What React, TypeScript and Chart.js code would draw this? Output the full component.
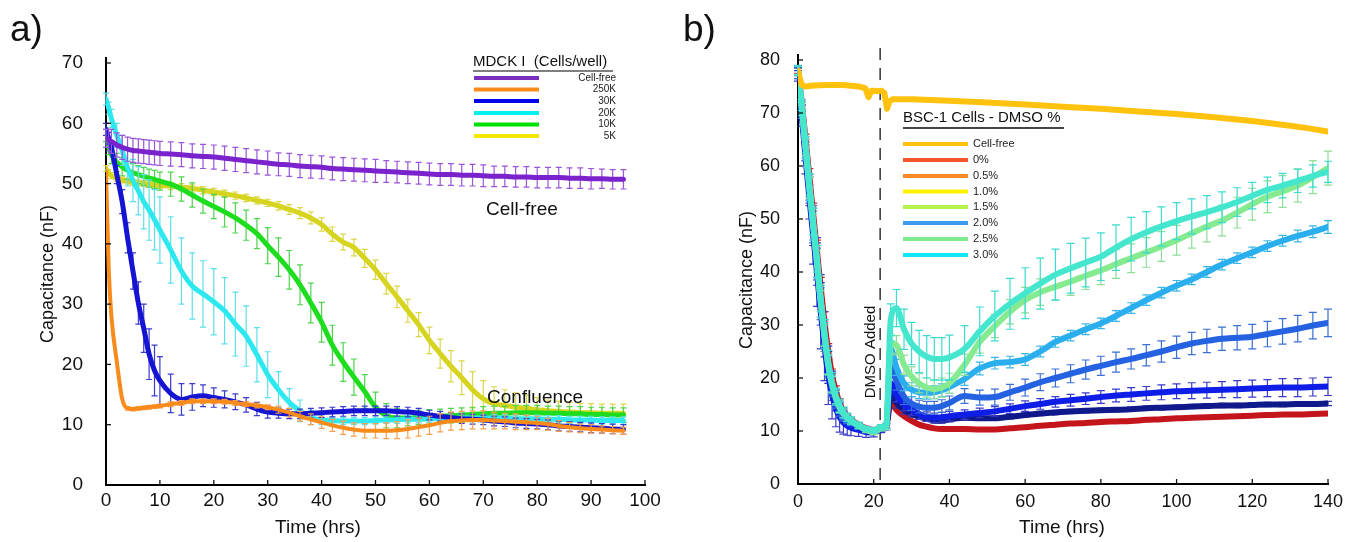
import React, { useEffect, useRef } from 'react';
import { Chart, registerables } from 'chart.js';

Chart.register(...registerables);

const FONT = '"Liberation Sans", Arial, Helvetica, sans-serif';

// ================= Panel a : MDCK I =================
const TIME_A = [0, 0.5, 1, 2, 3, 4, 5, 6, 7, 8, 9, 10, 12, 14, 16, 18, 20, 22, 24, 26, 28, 30, 32, 34, 36, 38, 40, 42, 44, 46, 48, 50, 52, 54, 56, 58, 60, 62, 64, 66, 68, 70, 72, 74, 76, 78, 80, 82, 84, 86, 88, 90, 92, 94, 96];

const A_CELLFREE = [57.5, 57.2, 57.0, 56.4, 56.0, 55.7, 55.5, 55.4, 55.3, 55.2, 55.1, 55.0, 54.9, 54.8, 54.6, 54.5, 54.4, 54.2, 54.0, 53.8, 53.6, 53.4, 53.2, 53.1, 52.9, 52.8, 52.7, 52.5, 52.4, 52.3, 52.2, 52.1, 52.0, 51.9, 51.8, 51.7, 51.6, 51.5, 51.5, 51.4, 51.4, 51.3, 51.2, 51.2, 51.1, 51.1, 51.0, 51.0, 51.0, 50.9, 50.9, 50.8, 50.8, 50.7, 50.7];
const A_CELLFREE_ERR = [1.5, 1.8, 2, 2, 2, 2, 2, 2, 2, 2, 2, 2, 2, 2, 2, 2, 2, 2, 2, 2, 2, 2, 1.9, 1.9, 1.9, 1.9, 1.9, 1.9, 1.9, 1.9, 1.9, 1.9, 1.8, 1.8, 1.8, 1.8, 1.8, 1.8, 1.8, 1.8, 1.8, 1.8, 1.7, 1.7, 1.7, 1.7, 1.7, 1.7, 1.7, 1.7, 1.7, 1.7, 1.6, 1.6, 1.6];

const A_250K = [52, 36, 28, 20.5, 14.3, 12.7, 12.6, 12.7, 12.8, 12.9, 13.0, 13.1, 13.4, 13.6, 13.9, 13.9, 13.9, 13.8, 13.6, 13.4, 13.2, 12.9, 12.5, 12.0, 11.4, 10.9, 10.4, 9.9, 9.5, 9.2, 9.0, 9.0, 9.0, 9.1, 9.3, 9.6, 9.9, 10.3, 10.6, 10.7, 10.8, 10.8, 10.7, 10.6, 10.5, 10.4, 10.3, 10.1, 9.8, 9.6, 9.4, 9.3, 9.2, 9.1, 9.0];
const A_250K_ERR = [0, 0, 0, 0, 0, 0.3, 0.3, 0.3, 0.3, 0.3, 0.3, 0.3, 0.4, 0.4, 0.4, 0.4, 0.4, 0.4, 0.4, 0.4, 0.4, 0.4, 0.6, 0.7, 0.8, 0.9, 1.0, 1.0, 1.1, 1.1, 1.2, 1.2, 1.3, 1.4, 1.5, 1.5, 1.5, 1.5, 1.5, 1.5, 1.5, 1.5, 1.4, 1.3, 1.3, 1.2, 1.1, 1.0, 0.9, 0.8, 0.7, 0.7, 0.6, 0.6, 0.6];

const A_30K = [59, 57.5, 56, 51.5, 47, 41, 35.5, 30.2, 26, 21.7, 19, 17.3, 15.2, 14.2, 14.6, 14.8, 14.5, 14.2, 13.8, 13.3, 12.6, 12.1, 11.9, 11.8, 11.8, 11.9, 12.0, 12.1, 12.2, 12.3, 12.3, 12.3, 12.3, 12.2, 12.1, 11.9, 11.6, 11.4, 11.2, 11.0, 10.9, 10.8, 10.6, 10.5, 10.3, 10.2, 10.1, 10.0, 9.8, 9.7, 9.6, 9.5, 9.4, 9.3, 9.2];
const A_30K_ERR = [1, 1, 1, 1.5, 2, 2.5, 3, 3.5, 4, 4.2, 4.2, 4, 3.2, 2.6, 2.2, 1.8, 1.6, 1.4, 1.3, 1.2, 1.1, 1.0, 0.8, 0.8, 0.8, 0.8, 0.8, 0.8, 0.8, 0.8, 0.8, 0.8, 0.8, 0.8, 0.8, 0.8, 0.8, 0.8, 0.8, 0.8, 0.8, 0.8, 0.8, 0.8, 0.8, 0.8, 0.8, 0.8, 0.8, 0.8, 0.8, 0.8, 0.8, 0.8, 0.8];

const A_20K = [64, 62.5, 60.8, 58, 55.5, 52.6, 50.5, 48.8, 47.0, 45.6, 44.0, 42.3, 39.0, 35.5, 33.0, 31.7, 30.4, 28.9, 26.7, 24.7, 21.6, 18.3, 15.8, 13.7, 12.3, 11.2, 10.8, 10.7, 10.6, 10.6, 10.6, 10.7, 10.8, 10.8, 10.9, 10.9, 11.0, 11.0, 11.0, 11.1, 11.1, 11.1, 11.1, 11.1, 11.0, 11.0, 11.0, 10.9, 10.9, 10.8, 10.8, 10.8, 10.7, 10.7, 10.7];
const A_20K_ERR = [1, 1, 1.5, 2, 2.5, 3, 3.5, 4, 4.5, 5, 5, 5.5, 5.5, 5.5, 5.5, 5.5, 5.5, 5.5, 5.3, 5, 4.5, 3.8, 3.0, 2.3, 1.8, 1.2, 0.8, 0.6, 0.6, 0.6, 0.6, 0.6, 0.6, 0.6, 0.6, 0.6, 0.6, 0.6, 0.6, 0.6, 0.6, 0.6, 0.6, 0.6, 0.6, 0.6, 0.6, 0.6, 0.6, 0.6, 0.6, 0.6, 0.6, 0.6, 0.6];

const A_10K = [58, 56, 54.8, 53.5, 52.8, 52.2, 51.8, 51.5, 51.2, 50.9, 50.7, 50.4, 49.9, 49.1, 48.1, 47.1, 46.2, 45.3, 44.3, 43.1, 41.7, 39.7, 37.8, 35.7, 33.2, 30.2, 27.0, 23.2, 20.4, 17.9, 15.5, 12.9, 11.5, 11.1, 11.1, 11.2, 11.3, 11.4, 11.5, 11.6, 11.7, 11.8, 11.9, 11.9, 12.0, 12.0, 12.0, 11.9, 11.9, 11.8, 11.8, 11.7, 11.7, 11.6, 11.6];
const A_10K_ERR = [1, 1.2, 1.5, 1.5, 1.5, 1.5, 1.5, 1.5, 1.5, 1.5, 1.5, 1.5, 2, 2, 2, 2, 2, 2.5, 2.5, 2.5, 2.5, 3, 3.2, 3.2, 3.3, 3.3, 3.3, 3.3, 3.2, 3.0, 2.8, 2.5, 2.0, 1.6, 1.3, 1.2, 1.2, 1.2, 1.2, 1.2, 1.2, 1.2, 1.2, 1.2, 1.2, 1.2, 1.2, 1.2, 1.2, 1.2, 1.2, 1.2, 1.2, 1.2, 1.2];

const A_5K = [52.5, 51.8, 51.3, 50.9, 50.6, 50.4, 50.2, 50.1, 50.0, 49.9, 49.8, 49.7, 49.6, 49.4, 49.2, 48.9, 48.6, 48.3, 48.0, 47.6, 47.2, 46.8, 46.3, 45.7, 45.1, 44.3, 43.2, 41.6, 40.3, 39.4, 37.6, 35.7, 33.4, 31.2, 28.9, 26.6, 24.0, 21.8, 19.7, 17.8, 15.8, 14.3, 13.5, 13.2, 12.9, 12.7, 12.5, 12.3, 12.2, 12.1, 12.0, 12.0, 11.9, 11.9, 11.9];
const A_5K_ERR = [0.5, 0.5, 0.5, 0.5, 0.5, 0.5, 0.5, 0.5, 0.5, 0.5, 0.5, 0.5, 0.6, 0.6, 0.6, 0.6, 0.6, 0.6, 0.6, 0.6, 0.6, 0.6, 0.7, 0.8, 0.9, 1.0, 1.1, 1.2, 1.3, 1.4, 1.5, 1.6, 1.7, 1.8, 1.9, 2.0, 2.2, 2.4, 2.6, 2.8, 3.0, 3.0, 2.8, 2.6, 2.4, 2.2, 2.0, 1.8, 1.7, 1.6, 1.5, 1.5, 1.5, 1.5, 1.5];

const A_LEGEND_TITLE = 'MDCK I  (Cells/well)';
const A_LEGEND_LABELS = ['Cell-free', '250K', '30K', '20K', '10K', '5K'];
const A_LEGEND_COLORS = ['#7B2FBE', '#FF8C1A', '#0000EE', '#00F0F0', '#00E000', '#F0E800'];

// ================= Panel b : BSC-1 / DMSO =================
const TIME_B = [0, 1, 2, 3, 4, 5, 6, 7, 8, 9, 10, 11, 12, 13, 14, 16, 18, 20, 22, 23.3, 24.5, 26, 28, 30, 32, 34, 36, 38, 40, 44, 48, 52, 56, 60, 64, 68, 72, 76, 80, 84, 88, 92, 96, 100, 104, 108, 112, 116, 120, 124, 128, 132, 136, 140];

const B_DMSO_0 = [78, 72, 65, 58, 51, 44, 37, 30.5, 25, 20.5, 17.5, 15.3, 13.8, 12.8, 12.1, 11.2, 10.5, 10.2, 10.7, 11.0, 15.3, 14.0, 12.8, 11.9, 11.2, 10.8, 10.5, 10.4, 10.4, 10.4, 10.3, 10.3, 10.5, 10.7, 11.0, 11.2, 11.4, 11.5, 11.7, 11.8, 11.9, 12.1, 12.2, 12.4, 12.5, 12.6, 12.7, 12.8, 12.9, 13.0, 13.1, 13.1, 13.2, 13.3];
const B_DMSO_0_ERR = [0.5, 0.5, 1, 1.5, 2, 2, 2, 2, 1.5, 1.2, 1, 0.8, 0.6, 0.5, 0.5, 0.4, 0.4, 0.4, 0.4, 0.4, 0, 0, 0, 0, 0, 0, 0, 0, 0, 0, 0, 0, 0, 0, 0, 0, 0, 0, 0, 0, 0, 0, 0, 0, 0, 0, 0, 0, 0, 0, 0, 0, 0, 0];

const B_DMSO_05 = [77.5, 70.5, 63, 55.5, 48.5, 41.5, 34, 27.5, 22, 18.3, 15.8, 14.0, 12.9, 12.2, 11.7, 10.9, 10.3, 10.0, 10.5, 10.9, 17.0, 15.3, 14.0, 13.2, 12.7, 12.3, 12.0, 12.0, 12.2, 12.5, 12.4, 12.4, 12.7, 13.0, 13.3, 13.5, 13.7, 13.8, 13.9, 14.0, 14.1, 14.3, 14.4, 14.5, 14.6, 14.7, 14.8, 14.8, 14.9, 15.0, 15.0, 15.1, 15.1, 15.2];
const B_DMSO_05_ERR = [1, 1.5, 2, 3, 3.5, 4, 4, 3.5, 3, 2.5, 2, 1.5, 1.2, 1, 0.8, 0.6, 0.5, 0.5, 0.5, 0.5, 1.2, 1, 0.8, 0.6, 0.5, 0.5, 0.5, 0.5, 0.5, 0.4, 0.4, 0.4, 0.4, 0.4, 0.4, 0.4, 0.4, 0.4, 0.4, 0.4, 0.4, 0.4, 0.4, 0.4, 0.4, 0.4, 0.4, 0.4, 0.4, 0.4, 0.4, 0.4, 0.4, 0.4];

const B_DMSO_10 = [77, 69.5, 61.5, 54, 47, 40, 32.5, 26, 20.5, 16.8, 14.3, 12.6, 11.6, 11.0, 10.6, 10.2, 9.8, 9.7, 10.3, 10.8, 19.0, 16.8, 15.0, 14.0, 13.2, 12.7, 12.5, 12.6, 12.8, 13.1, 13.4, 13.7, 14.2, 14.7, 15.1, 15.5, 15.8, 16.1, 16.4, 16.7, 16.9, 17.1, 17.3, 17.5, 17.6, 17.7, 17.8, 17.9, 18.0, 18.1, 18.2, 18.2, 18.3, 18.4];
const B_DMSO_10_ERR = [1, 2, 3, 4, 5.5, 6.5, 7, 6.5, 5.5, 4.5, 3.5, 2.8, 2.2, 1.8, 1.5, 1.2, 1.0, 0.8, 0.6, 0.6, 1.5, 1.3, 1.2, 1.0, 1.0, 0.9, 0.9, 0.9, 0.9, 0.9, 0.9, 0.9, 0.9, 1.0, 1.0, 1.0, 1.1, 1.1, 1.2, 1.2, 1.3, 1.3, 1.4, 1.4, 1.5, 1.5, 1.5, 1.6, 1.6, 1.6, 1.7, 1.7, 1.7, 1.7];

const B_DMSO_15 = [77.5, 70.5, 63, 55.5, 48.5, 41.5, 34, 27.5, 22, 18.3, 15.8, 14.0, 12.9, 12.2, 11.7, 10.9, 10.3, 10.0, 10.5, 10.9, 22.5, 19.5, 16.5, 15.2, 14.6, 14.4, 14.4, 14.7, 15.3, 16.6, 16.3, 16.4, 17.3, 18.2, 19.2, 20.0, 20.8, 21.6, 22.3, 23.0, 23.6, 24.3, 25.0, 25.8, 26.5, 27.0, 27.4, 27.6, 27.8, 28.3, 28.8, 29.3, 29.9, 30.4];
const B_DMSO_15_ERR = [1, 1.5, 2, 2.5, 3, 3, 3, 2.5, 2, 1.8, 1.5, 1.2, 1, 0.8, 0.7, 0.6, 0.5, 0.5, 0.5, 0.5, 2, 1.8, 1.5, 1.3, 1.2, 1.2, 1.2, 1.2, 1.3, 1.4, 1.4, 1.5, 1.5, 1.6, 1.6, 1.7, 1.7, 1.8, 1.8, 1.9, 1.9, 2.0, 2.0, 2.1, 2.1, 2.2, 2.2, 2.3, 2.3, 2.4, 2.4, 2.5, 2.5, 2.6];

const B_DMSO_20 = [78, 71, 63.5, 56, 49, 42, 34.5, 28, 22.5, 18.8, 16.3, 14.5, 13.3, 12.5, 11.9, 11.0, 10.3, 10.0, 10.6, 10.9, 25.5, 22, 19, 17.8, 17.3, 17.2, 17.3, 17.7, 18.3, 19.8, 21.8, 22.8, 23.0, 23.5, 25.0, 26.8, 28.0, 29.2, 30.3, 31.7, 33.2, 34.7, 36.1, 37.4, 38.6, 40.0, 41.4, 42.6, 43.7, 44.9, 45.9, 46.8, 47.6, 48.5];
const B_DMSO_20_ERR = [1, 1.5, 2, 2.5, 3, 3, 3, 2.5, 2, 1.8, 1.5, 1.2, 1, 0.8, 0.7, 0.6, 0.5, 0.5, 0.5, 0.5, 1.5, 1.5, 1.4, 1.3, 1.2, 1.2, 1.2, 1.2, 1.2, 1.2, 1.2, 1.1, 1.1, 1.1, 1.0, 1.0, 1.0, 1.0, 1.0, 1.0, 1.0, 1.0, 1.0, 1.0, 1.0, 1.0, 1.0, 1.0, 1.0, 1.0, 1.0, 1.1, 1.1, 1.2];

const B_DMSO_25 = [78, 71, 63.5, 56, 49, 42, 34.5, 28, 22.5, 18.8, 16.3, 14.5, 13.3, 12.5, 11.9, 11.0, 10.2, 9.8, 10.5, 10.8, 26.5, 26.2, 22.5, 20.3, 19.0, 18.2, 17.9, 18.2, 19.0, 22.5, 26.8, 29.8, 32.5, 34.7, 36.2, 37.2, 38.2, 39.3, 40.3, 41.5, 42.6, 43.7, 44.8, 46.0, 47.3, 48.6, 49.7, 51.2, 52.8, 54.2, 55.2, 56.3, 57.9, 59.6];
const B_DMSO_25_ERR = [0.8, 1, 1.5, 2, 2, 2, 2, 2, 1.8, 1.5, 1.2, 1, 0.8, 0.7, 0.6, 0.5, 0.5, 0.5, 0.5, 0.5, 1.8, 1.8, 1.8, 1.8, 1.8, 1.8, 1.8, 1.8, 1.9, 2.0, 2.1, 2.2, 2.3, 2.4, 2.5, 2.5, 2.6, 2.6, 2.7, 2.7, 2.7, 2.8, 2.8, 2.8, 2.8, 2.9, 2.9, 2.9, 3.0, 3.0, 3.0, 3.1, 3.1, 3.2];

const B_DMSO_30 = [78, 71.5, 64, 56.5, 49.5, 42.5, 35, 28.5, 23, 19.2, 16.6, 14.8, 13.5, 12.6, 12.0, 11.1, 10.4, 10.1, 10.7, 11.0, 31.0, 33.2, 29.2, 26.5, 25.0, 24.0, 23.6, 23.6, 23.9, 25.5, 28.8, 31.7, 34.0, 36.0, 37.8, 39.5, 40.7, 41.8, 42.9, 44.6, 46.2, 47.5, 48.6, 49.6, 50.5, 51.3, 52.2, 53.2, 54.4, 55.5, 56.3, 57.2, 58.1, 58.9];
const B_DMSO_30_ERR = [0.8, 1, 1.5, 2, 2.5, 2.5, 2.5, 2.5, 2.2, 1.8, 1.5, 1.2, 1, 0.8, 0.7, 0.6, 0.5, 0.5, 0.5, 0.5, 3.0, 3.5, 3.8, 4.0, 4.0, 4.0, 4.0, 4.0, 4.2, 4.4, 4.6, 4.7, 4.8, 4.8, 4.8, 4.8, 4.7, 4.6, 4.5, 4.3, 4.1, 3.9, 3.7, 3.5, 3.3, 3.1, 2.9, 2.7, 2.5, 2.4, 2.3, 2.2, 2.1, 2.0];

const TIME_CF = [0, 0.5, 1, 2, 4, 8, 12, 16, 17.8, 18.6, 19.4, 20, 21, 22, 22.8, 23.5, 24.2, 25, 30, 40, 50, 60, 70, 80, 90, 100, 110, 120, 130, 135, 140];
const B_CELLFREE = [78, 76.5, 75.3, 75, 75.2, 75.3, 75.3, 75.0, 74.7, 73.0, 74.2, 74.2, 74.1, 74.2, 73.8, 70.8, 72.2, 72.6, 72.6, 72.3, 72.0, 71.6, 71.2, 70.8, 70.3, 69.8, 69.2, 68.5, 67.6, 67.1, 66.5];

const DMSO_TIME = 21.7;

const B_LEGEND_TITLE = 'BSC-1 Cells - DMSO %';
const B_LEGEND_LABELS = ['Cell-free', '0%', '0.5%', '1.0%', '1.5%', '2.0%', '2.5%', '3.0%'];
const B_LEGEND_COLORS = ['#FFC20E', '#F4552A', '#FF8A2A', '#FFF200', '#B6F24E', '#3C9BF0', '#7EEA8C', '#12E6F5'];

// ================= helpers =================
function series(label: string, xs: number[], ys: number[], errs: number[] | null, color: string, errColor: string, width: number, cap: number, smooth = true) {
  return {
    label,
    data: xs.map((x, i) => ({ x, y: ys[i] })),
    borderColor: color,
    backgroundColor: color,
    borderWidth: width,
    pointRadius: 0,
    fill: false,
    tension: smooth ? 0.4 : 0,
    cubicInterpolationMode: smooth ? 'monotone' : 'default',
    borderCapStyle: 'round',
    borderJoinStyle: 'round',
    errors: errs,
    errorColor: errColor,
    capHalf: cap,
  } as any;
}

const errorBarPlugin = {
  id: 'errorBars',
  beforeDatasetDraw(chart: any, args: any) {
    const ds = chart.data.datasets[args.index];
    const errs: number[] | null = ds.errors;
    if (!errs) return;
    const xs = chart.scales.x;
    const ys = chart.scales.y;
    const ctx = chart.ctx;
    ctx.save();
    ctx.strokeStyle = ds.errorColor;
    ctx.lineWidth = 1.2;
    const c = ds.capHalf;
    ds.data.forEach((p: any, i: number) => {
      const e = errs[i];
      if (!e) return;
      const px = xs.getPixelForValue(p.x);
      const top = ys.getPixelForValue(p.y + e);
      const bot = ys.getPixelForValue(p.y - e);
      ctx.beginPath();
      ctx.moveTo(px, top); ctx.lineTo(px, bot);
      ctx.moveTo(px - c, top); ctx.lineTo(px + c, top);
      ctx.moveTo(px - c, bot); ctx.lineTo(px + c, bot);
      ctx.stroke();
    });
    ctx.restore();
  },
};

const inwardTicks = {
  id: 'inwardTicks',
  afterDraw(chart: any) {
    const { ctx, chartArea } = chart;
    const xs = chart.scales.x;
    const ys = chart.scales.y;
    ctx.save();
    ctx.strokeStyle = '#111';
    ctx.lineWidth = 1.3;
    xs.ticks.forEach((t: any) => {
      if (t.value === xs.min) return;
      const px = xs.getPixelForValue(t.value);
      ctx.beginPath(); ctx.moveTo(px, chartArea.bottom); ctx.lineTo(px, chartArea.bottom - 5); ctx.stroke();
    });
    ys.ticks.forEach((t: any) => {
      if (t.value === ys.min) return;
      const py = ys.getPixelForValue(t.value);
      ctx.beginPath(); ctx.moveTo(chartArea.left, py); ctx.lineTo(chartArea.left + 5, py); ctx.stroke();
    });
    // small extension of the y axis line above the top tick
    ctx.strokeStyle = '#000';
    ctx.lineWidth = 2;
    ctx.beginPath(); ctx.moveTo(chartArea.left, chartArea.top); ctx.lineTo(chartArea.left, chartArea.top - 6); ctx.stroke();
    ctx.restore();
  },
};

function axisOptions(min: number, max: number, step: number, pad: number, size: number, fit: (s: any) => void) {
  return {
    type: 'linear',
    min, max,
    ticks: { stepSize: step, padding: pad, color: '#111', font: { family: FONT, size }, autoSkip: false, maxRotation: 0 },
    grid: { display: false },
    border: { display: true, color: '#000', width: 2 },
    afterFit: fit,
  } as any;
}

function drawRotated(ctx: CanvasRenderingContext2D, text: string, cx: number, cy: number, font: string) {
  ctx.save();
  ctx.translate(cx, cy);
  ctx.rotate(-Math.PI / 2);
  ctx.font = font;
  ctx.textAlign = 'center';
  ctx.textBaseline = 'middle';
  ctx.fillText(text, 0, 0);
  ctx.restore();
}

const overlayA = {
  id: 'overlayA',
  afterDraw(chart: any) {
    const ctx: CanvasRenderingContext2D = chart.ctx;
    ctx.save();
    ctx.fillStyle = '#111';
    ctx.textAlign = 'left';
    ctx.textBaseline = 'alphabetic';
    ctx.font = `37px ${FONT}`;
    ctx.fillText('a)', 10, 41);
    drawRotated(ctx, 'Capacitance (nF)', 48, 274, `18px ${FONT}`);
    ctx.font = `19px ${FONT}`;
    ctx.textAlign = 'center';
    ctx.textBaseline = 'middle';
    ctx.fillText('Time (hrs)', 318, 528);
    ctx.textAlign = 'left';
    ctx.fillText('Cell-free', 486, 210);
    ctx.fillText('Confluence', 487, 398);
    // legend
    ctx.textBaseline = 'alphabetic';
    ctx.font = `15px ${FONT}`;
    ctx.fillText(A_LEGEND_TITLE, 473, 66);
    ctx.strokeStyle = '#555';
    ctx.lineWidth = 1.5;
    ctx.beginPath(); ctx.moveTo(473, 71); ctx.lineTo(613, 71); ctx.stroke();
    const ys = [78, 89.5, 101, 113, 124.5, 136];
    ctx.font = `10px ${FONT}`;
    ctx.textAlign = 'right';
    ctx.textBaseline = 'middle';
    A_LEGEND_LABELS.forEach((lab, i) => {
      ctx.strokeStyle = A_LEGEND_COLORS[i];
      ctx.lineWidth = 4;
      ctx.beginPath(); ctx.moveTo(474, ys[i]); ctx.lineTo(539, ys[i]); ctx.stroke();
      ctx.fillStyle = '#222';
      ctx.fillText(lab, 616, ys[i]);
    });
    ctx.restore();
  },
};

const overlayB = {
  id: 'overlayB',
  beforeDatasetsDraw(chart: any) {
    const ctx: CanvasRenderingContext2D = chart.ctx;
    const xs = chart.scales.x;
    const px = xs.getPixelForValue(DMSO_TIME);
    ctx.save();
    ctx.strokeStyle = '#333';
    ctx.lineWidth = 1.5;
    ctx.setLineDash([12, 8]);
    ctx.beginPath(); ctx.moveTo(px, 48); ctx.lineTo(px, chart.chartArea.bottom); ctx.stroke();
    ctx.restore();
  },
  afterDraw(chart: any) {
    const ctx: CanvasRenderingContext2D = chart.ctx;
    ctx.save();
    ctx.fillStyle = '#111';
    ctx.textAlign = 'left';
    ctx.textBaseline = 'alphabetic';
    ctx.font = `37px ${FONT}`;
    ctx.fillText('b)', 13, 41);
    drawRotated(ctx, 'Capacitance (nF)', 77, 280, `18px ${FONT}`);
    const xs = chart.scales.x;
    drawRotated(ctx, 'DMSO Added', xs.getPixelForValue(DMSO_TIME) - 9, 352, `15px ${FONT}`);
    ctx.font = `19px ${FONT}`;
    ctx.textAlign = 'center';
    ctx.textBaseline = 'middle';
    ctx.fillText('Time (hrs)', 392, 528);
    // legend
    ctx.textAlign = 'left';
    ctx.textBaseline = 'alphabetic';
    ctx.font = `15px ${FONT}`;
    ctx.fillText(B_LEGEND_TITLE, 233, 122);
    ctx.strokeStyle = '#444';
    ctx.lineWidth = 2;
    ctx.beginPath(); ctx.moveTo(233, 128); ctx.lineTo(394, 128); ctx.stroke();
    const ys = [144, 160, 176, 191.5, 207, 223, 239, 255];
    ctx.font = `11px ${FONT}`;
    ctx.textBaseline = 'middle';
    B_LEGEND_LABELS.forEach((lab, i) => {
      ctx.strokeStyle = B_LEGEND_COLORS[i];
      ctx.lineWidth = 4;
      ctx.beginPath(); ctx.moveTo(233, ys[i]); ctx.lineTo(298, ys[i]); ctx.stroke();
      ctx.fillStyle = '#222';
      ctx.fillText(lab, 303, ys[i]);
    });
    ctx.restore();
  },
};

export default function App() {
  const refA = useRef<HTMLCanvasElement>(null);
  const refB = useRef<HTMLCanvasElement>(null);

  useEffect(() => {
    const chartA = new Chart(refA.current as HTMLCanvasElement, {
      type: 'line',
      data: {
        datasets: [
          series('Cell-free', TIME_A, A_CELLFREE, A_CELLFREE_ERR, '#7A22CC', '#9A55DD', 5, 3),
          series('250K', TIME_A, A_250K, A_250K_ERR, '#F98A1C', '#F5A050', 4, 3),
          series('30K', TIME_A, A_30K, A_30K_ERR, '#1414D2', '#3A3AD0', 5, 3),
          series('20K', TIME_A, A_20K, A_20K_ERR, '#2EE8F0', '#5BE0EA', 5, 3),
          series('10K', TIME_A, A_10K, A_10K_ERR, '#1EDC1E', '#4CD44C', 5, 3),
          series('5K', TIME_A, A_5K, A_5K_ERR, '#D6D41E', '#DCD64A', 5, 3),
        ],
      },
      options: {
        responsive: false,
        animation: false,
        events: [],
        layout: { padding: { left: 0, right: 25, top: 63, bottom: 0 } },
        plugins: { legend: { display: false }, tooltip: { enabled: false }, title: { display: false } },
        scales: {
          x: axisOptions(0, 100, 10, -4, 19, (s: any) => { s.height = 57; }),
          y: axisOptions(0, 70, 10, 15, 19, (s: any) => { s.width = 106; }),
        },
      } as any,
      plugins: [errorBarPlugin, inwardTicks, overlayA],
    });

    const chartB = new Chart(refB.current as HTMLCanvasElement, {
      type: 'line',
      data: {
        datasets: [
          series('Cell-free', TIME_CF, B_CELLFREE, null, '#FFC20E', '#FFC20E', 6, 4, false),
          series('3.0%', TIME_B, B_DMSO_30, B_DMSO_30_ERR, '#44E6CE', '#3CDCD0', 6, 4),
          series('2.5%', TIME_B, B_DMSO_25, B_DMSO_25_ERR, '#86EA90', '#8EDE98', 6, 4),
          series('2.0%', TIME_B, B_DMSO_20, B_DMSO_20_ERR, '#2AAEEE', '#3CB6E6', 6, 4),
          series('1.5%', TIME_B, B_DMSO_15, B_DMSO_15_ERR, '#2462E2', '#3D6FD6', 6, 4),
          series('1.0%', TIME_B, B_DMSO_10, B_DMSO_10_ERR, '#0E1EE6', '#3A3ACC', 6, 4),
          series('0.5%', TIME_B, B_DMSO_05, B_DMSO_05_ERR, '#10198C', '#303AA8', 6, 4),
          series('0%', TIME_B, B_DMSO_0, B_DMSO_0_ERR, '#C4141C', '#C83030', 6, 4),
        ],
      },
      options: {
        responsive: false,
        animation: false,
        events: [],
        layout: { padding: { left: 0, right: 21, top: 60, bottom: 0 } },
        plugins: { legend: { display: false }, tooltip: { enabled: false }, title: { display: false } },
        scales: {
          x: axisOptions(0, 140, 20, -1, 18, (s: any) => { s.height = 58; }),
          y: axisOptions(0, 80, 10, 10, 18, (s: any) => { s.width = 128; }),
        },
      } as any,
      plugins: [errorBarPlugin, inwardTicks, overlayB],
    });

    return () => { chartA.destroy(); chartB.destroy(); };
  }, []);

  return (
    <div style={{ position: 'absolute', left: 0, top: 0, width: 1349, height: 542, background: '#fff', overflow: 'hidden' }}>
      <canvas ref={refA} width={670} height={542} style={{ position: 'absolute', left: 0, top: 0, width: 670, height: 542 }} />
      <canvas ref={refB} width={679} height={542} style={{ position: 'absolute', left: 670, top: 0, width: 679, height: 542 }} />
    </div>
  );
}
